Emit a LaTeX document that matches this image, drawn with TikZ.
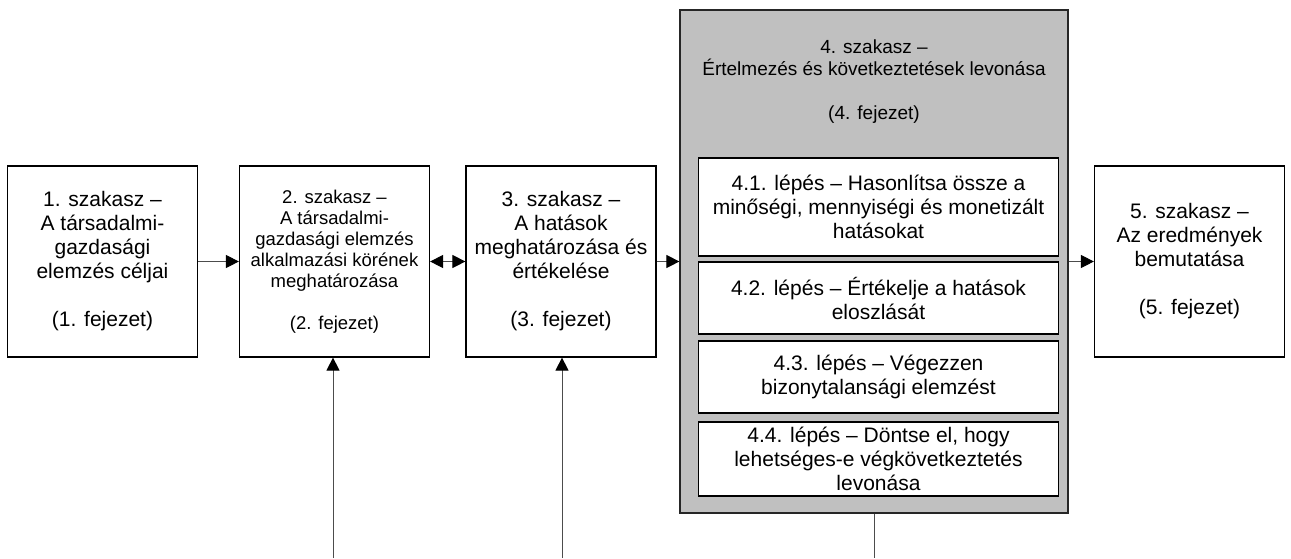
\documentclass[tikz,border=0pt]{standalone}
\usepackage{fontspec}
\setmainfont{Liberation Sans}
\usetikzlibrary{arrows.meta}
\definecolor{panel}{HTML}{C0C0C0}
\begin{document}
\begin{tikzpicture}[x=1pt,y=-1pt,
  >={Triangle[length=13pt,width=13pt,color=black]},
  bigtext/.style={font=\fontsize{21}{24}\selectfont},
  smalltext/.style={font=\fontsize{18.5}{21}\selectfont},
  stage/.style={draw=black, line width=1.2pt, fill=white, minimum width=190pt,
    minimum height=191pt, align=center, inner sep=0pt, bigtext},
  stagesmall/.style={stage, smalltext},
  phase/.style={draw=black!85, line width=1.2pt, fill=panel, minimum width=388pt,
    minimum height=503pt, inner sep=0pt},
  stepbox/.style={draw=black, line width=1.2pt, fill=white, minimum width=360pt,
    align=center, inner sep=0pt, bigtext},
  link/.style={draw=black!70, line width=1pt}
]
\useasboundingbox (0,0) rectangle (1291,558);

% stages of the analysis
\node[stage] (s1) at (102.5,261.5)
  {1. szakasz –\\A társadalmi-\\gazdasági\\elemzés céljai\\[24pt](1. fejezet)};
\node[stagesmall] (s2) at (334.5,261.5)
  {2. szakasz –\\A társadalmi-\\gazdasági elemzés\\alkalmazási körének\\meghatározása\\[21pt](2. fejezet)};
\node[stage] (s3) at (561,261.5)
  {3. szakasz –\\A hatások\\meghatározása és\\értékelése\\[24pt](3. fejezet)};
\node[stage] (s5) at (1189.5,261.5)
  {5. szakasz –\\Az eredmények\\bemutatása\\[24pt](5. fejezet)};

% stage 4 with its steps
\node[phase] (p4) at (874,261.5) {};
\node[align=center, font=\fontsize{19}{22}\selectfont] (h4) at (874,82)
  {4. szakasz –\\Értelmezés és következtetések levonása\\[22pt](4. fejezet)};
\node[stepbox, minimum height=98pt] (s41) at (878.5,207)
  {4.1. lépés – Hasonlítsa össze a\\minőségi, mennyiségi és monetizált\\hatásokat};
\node[stepbox, minimum height=72pt] (s42) at (878.5,298)
  {4.2. lépés – Értékelje a hatások\\eloszlását};
\node[stepbox, minimum height=72pt] (s43) at (878.5,377)
  {4.3. lépés – Végezzen\\bizonytalansági elemzést};
\node[stepbox, minimum height=74pt] (s44) at (878.5,459)
  {4.4. lépés – Döntse el, hogy\\lehetséges-e végkövetkeztetés\\levonása};

% connectors between stages
\draw[link,->] (s1.east) -- (s2.west);
\draw[link,<->] (s2.east) -- (s3.west);
\draw[link,->] (s3.east) -- (s3.east -| p4.west);
\draw[link,->] (s5.west -| p4.east) -- (s5.west);

% inputs from below and the output of stage 4
\coordinate (in2) at (333,558);
\coordinate (in3) at (562,558);
\coordinate (out4) at (874,558);
\draw[link,->] (in2) -- (in2 |- s2.south);
\draw[link,->] (in3) -- (in3 |- s3.south);
\draw[link] (p4.south) -- (out4);
\end{tikzpicture}
\end{document}
